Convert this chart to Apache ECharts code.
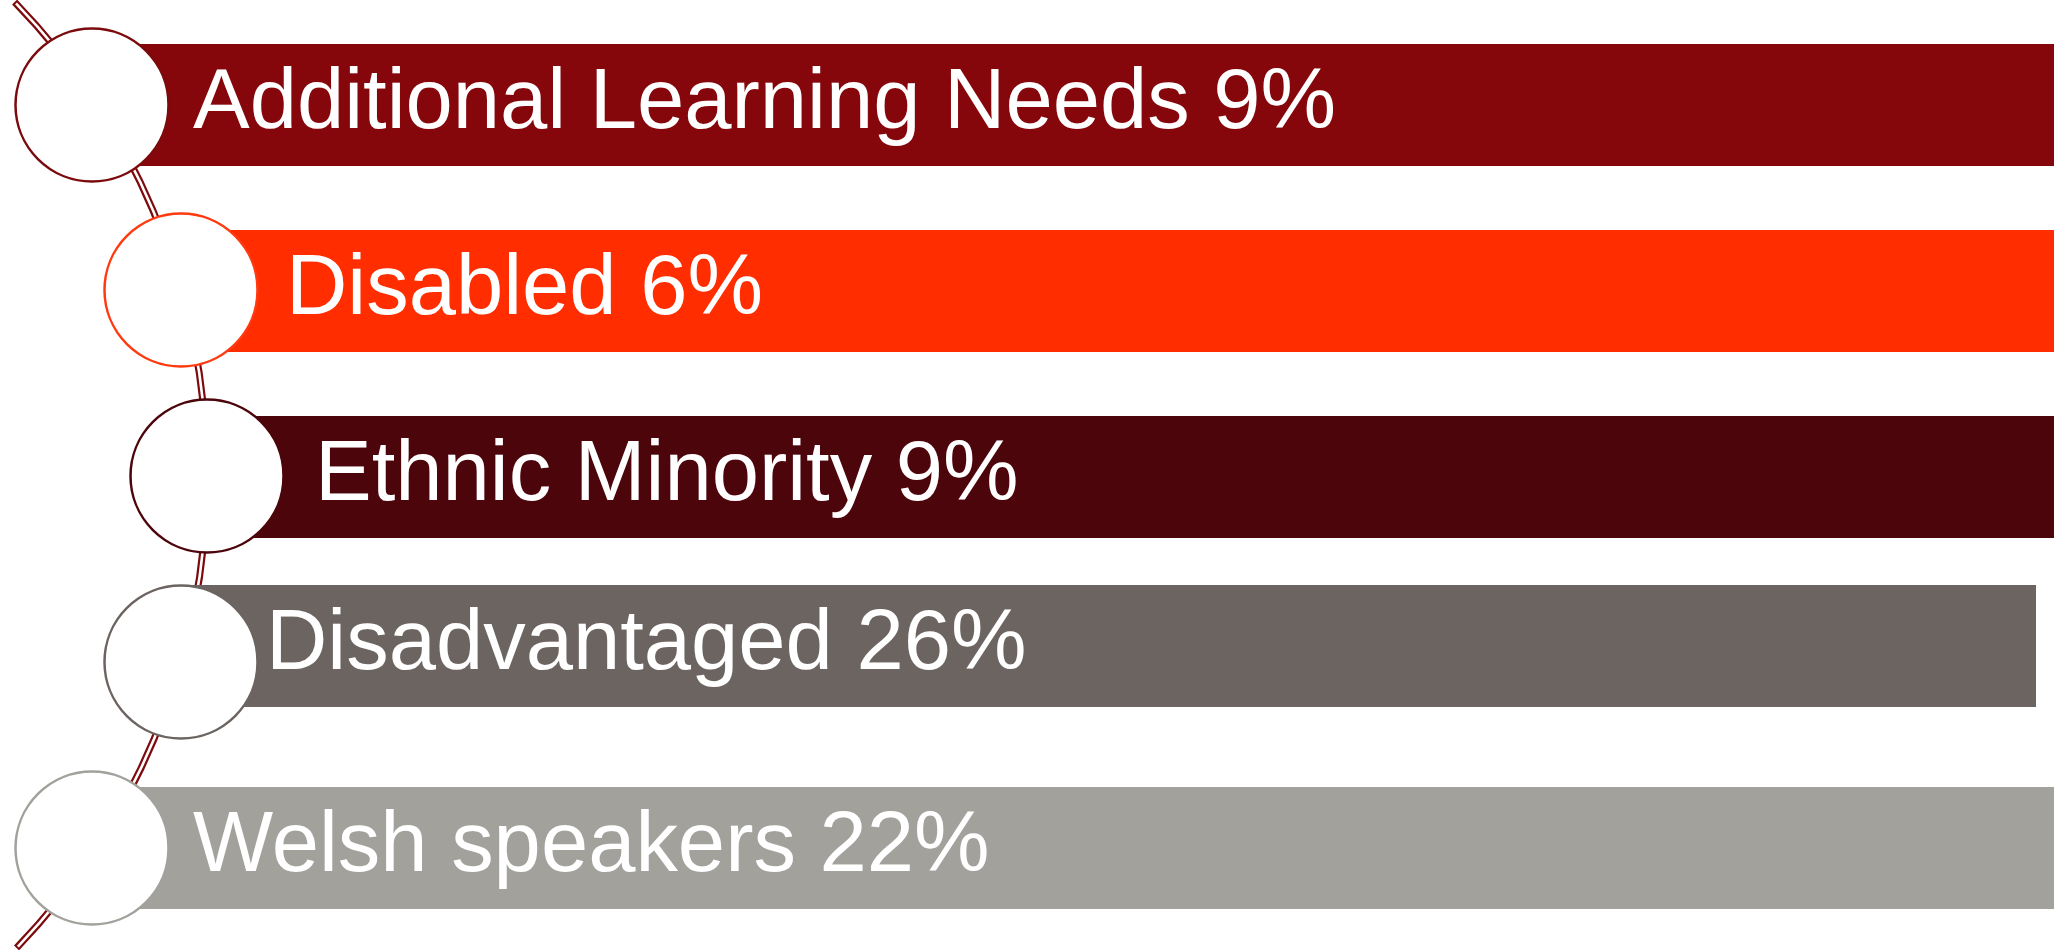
<!DOCTYPE html>
<html>
<head>
<meta charset="utf-8">
<script src="https://cdn.jsdelivr.net/npm/echarts@6/dist/echarts.min.js"></script>
<style>
html, body { margin: 0; padding: 0; background: #fff; }
#chart { width: 2060px; height: 950px; }
</style>
</head>
<body>
<div id="chart"></div>
<script>
// groups and their share of pupils (%)
const categories = ['Additional Learning Needs', 'Disabled', 'Ethnic Minority', 'Disadvantaged', 'Welsh speakers']
const shares = [9, 6, 9, 26, 22]

// styles
const barColors = ['#86070b', '#ff2d00', '#4d050c', '#6c6461', '#a2a19c']
const ringColors = ['#7b0a0d', '#ff3a10', '#4d050c', '#6c6461', '#a2a19c']
const lineColor = '#7d0a0c'

// layout (pixel units of the hidden axes)
const rowMid = [105, 291, 477, 646, 848]
const barEnd = [2054, 2054, 2054, 2036, 2054]
const barH = 122
const circleMid = [105, 290, 476, 662, 848]
const circleX = [92, 181, 207, 181, 92]
const textLeft = [193, 286, 315, 266, 193]
const arc = { cx: -473, cy: 476, r: 680, top: 2, bottom: 948 }

const chart = echarts.init(document.getElementById('chart'))

const option = {
  animation: false,
  backgroundColor: '#fff',
  grid: { left: 0, right: 0, top: 0, bottom: 0 },
  xAxis: { type: 'value', min: 0, max: 2060, show: false },
  yAxis: { type: 'value', min: 0, max: 950, inverse: true, show: false },
  series: [
    {
      // the double curved connector
      type: 'custom',
      silent: true,
      z: 1,
      data: [[0, 0]],
      renderItem(params, api) {
        const c = api.coord([arc.cx, arc.cy])
        const r = api.size([arc.r, 0])[0]
        const a0 = Math.asin((arc.top - arc.cy) / arc.r)
        const a1 = Math.asin((arc.bottom - arc.cy) / arc.r)
        return {
          type: 'group',
          children: [
            {
              type: 'arc',
              shape: { cx: c[0], cy: c[1], r: r, startAngle: a0, endAngle: a1, clockwise: true },
              style: { stroke: lineColor, lineWidth: 7, fill: null, lineCap: 'butt' }
            },
            {
              type: 'arc',
              shape: { cx: c[0], cy: c[1], r: r, startAngle: a0 + 0.003, endAngle: a1 - 0.003, clockwise: true },
              style: { stroke: '#fff', lineWidth: 2.6, fill: null, lineCap: 'butt' }
            }
          ]
        }
      }
    },
    {
      // the coloured bands
      type: 'custom',
      silent: true,
      z: 2,
      data: categories.map((c, i) => [i, shares[i]]),
      renderItem(params, api) {
        const i = api.value(0)
        const p0 = api.coord([circleX[i], rowMid[i] - barH / 2])
        const p1 = api.coord([barEnd[i], rowMid[i] + barH / 2])
        return {
          type: 'rect',
          shape: { x: p0[0], y: p0[1], width: p1[0] - p0[0], height: p1[1] - p0[1] },
          style: { fill: barColors[i] }
        }
      }
    },
    {
      // white discs
      type: 'scatter',
      silent: true,
      z: 3,
      symbol: 'circle',
      symbolSize: 153,
      data: categories.map((c, i) => ({
        value: [circleX[i], circleMid[i]],
        itemStyle: { color: '#fff', borderColor: ringColors[i], borderWidth: 2.5, opacity: 1 }
      }))
    },
    {
      // labels
      type: 'custom',
      silent: true,
      z: 4,
      data: categories.map((c, i) => [i, shares[i]]),
      renderItem(params, api) {
        const i = api.value(0)
        const p = api.coord([textLeft[i], rowMid[i]])
        return {
          type: 'text',
          x: p[0],
          y: p[1] - 1,
          scaleX: 0.988,
          style: {
            text: categories[i] + ' ' + shares[i] + '%',
            fill: '#fff',
            font: '86px "Liberation Sans", Arial, sans-serif',
            align: 'left',
            verticalAlign: 'middle'
          }
        }
      }
    }
  ]
}

chart.setOption(option)
</script>
</body>
</html>
